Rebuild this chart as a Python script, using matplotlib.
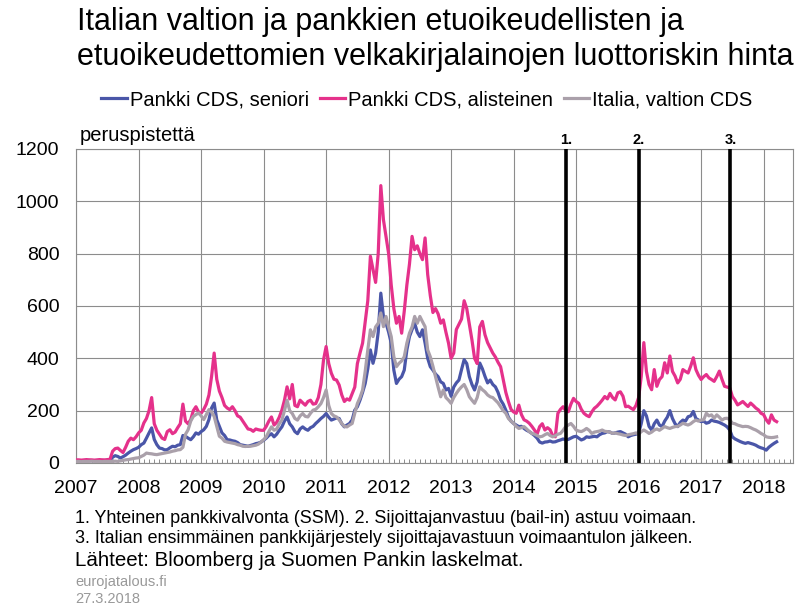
import numpy as np
import matplotlib
matplotlib.use('Agg')
import matplotlib.pyplot as plt
from matplotlib.ticker import MultipleLocator

plt.rcParams['font.family'] = ['Liberation Sans', 'DejaVu Sans']

# puolikuukausittaiset havainnot 1/2007 - 3/2018 (peruspistettä)
start_year = 2007
per_year = 24

senior = [9,9,8,9,9,10,9,9,8,9,10,9,9,10, 22,28,25,19,24,30,38,45,51,55,
          60,70,76,95,115,134,90,70,57,55,50,51,58,64,62,68,70,105,102,95,89,100,115,110,
          120,127,140,166,210,229,165,140,115,105,89,88,85,83,78,70,68,66,64,67,70,74,76,80,
          87,95,105,112,100,110,125,138,160,176,150,138,120,112,130,138,130,125,135,140,151,160,170,178,
          189,175,164,168,172,170,150,138,145,151,165,202,215,240,270,304,360,432,381,420,500,649,560,534,
          500,458,355,304,320,330,355,432,483,510,534,500,483,509,458,400,368,355,340,330,310,304,279,285,
          255,290,306,317,357,395,380,330,300,279,310,382,360,331,306,317,300,291,270,241,225,202,175,160,
          151,145,139,140,132,125,120,113,105,95,80,76,80,81,84,80,81,85,88,92,88,90,95,100,
          102,95,88,92,100,98,100,102,100,108,113,115,120,118,113,115,118,120,115,110,100,105,108,110,
          115,150,200,180,140,126,150,164,145,139,160,175,200,170,150,139,155,164,160,177,180,197,170,164,
          158,160,152,155,164,160,158,155,150,145,138,126,100,92,87,82,78,75,78,75,72,68,62,58,
          55,49,60,68,75,81]

subordinated = [12,12,11,12,13,12,12,11,12,13,12,12,13,14, 45,55,57,48,40,60,83,95,89,100,
                115,125,153,170,200,250,150,125,110,95,90,120,127,112,118,135,150,225,160,150,166,200,215,195,
                190,205,225,260,330,420,320,275,250,220,210,204,215,200,180,175,160,145,130,128,121,130,127,125,
                125,140,160,176,145,155,175,202,240,291,245,300,220,215,240,230,221,235,240,225,227,250,300,394,
                445,380,343,320,317,298,260,235,245,240,265,290,380,420,458,540,620,790,739,690,800,1060,930,866,
                800,680,590,534,560,496,580,680,760,866,815,830,800,777,860,720,640,575,590,570,534,547,500,458,
                400,420,510,530,550,620,590,530,470,400,380,520,541,490,460,440,420,405,385,368,320,270,235,205,
                195,190,221,185,165,160,152,140,126,110,139,150,126,135,127,105,100,190,205,215,200,196,225,247,
                235,228,205,190,182,177,195,209,217,228,240,254,245,266,250,241,268,272,255,215,217,210,204,220,
                250,330,460,350,300,280,357,293,319,330,383,344,409,350,332,306,320,357,350,344,370,402,357,335,
                319,330,338,325,319,312,330,351,320,293,290,287,254,240,222,228,235,225,216,229,220,210,203,190,
                185,165,152,184,164,158]

sovereign = [6,6,5,6,6,6,7,6,6,6,5,6,6,6,6,7,6,8,10,12,13,15,17,19,
             20,25,30,38,36,35,33,32,34,36,38,40,42,45,47,50,51,60,110,127,160,178,185,191,
             180,166,185,204,195,178,140,102,95,83,80,78,76,74,70,68,64,63,64,64,66,68,72,80,
             89,100,120,138,125,130,150,164,200,240,200,189,170,164,180,189,178,176,190,202,205,215,227,250,
             279,220,189,180,176,165,151,140,138,145,151,190,227,250,279,350,432,509,483,520,534,573,521,560,
             520,483,406,368,381,390,406,458,496,520,560,534,560,540,521,432,406,370,330,290,253,279,250,240,
             228,250,266,280,291,300,280,253,240,228,250,291,280,272,260,253,250,240,230,215,200,190,170,160,
             151,140,132,135,139,130,120,113,110,105,100,102,108,113,105,100,104,110,113,125,139,145,151,140,
             126,122,120,125,132,125,113,118,120,122,126,121,120,118,113,115,112,110,107,105,108,110,112,115,
             110,120,126,120,113,118,126,130,125,132,139,135,132,136,139,140,145,152,148,145,150,158,164,160,
             164,165,190,180,184,171,184,175,164,170,171,165,152,150,145,142,139,140,139,135,130,126,120,113,
             108,100,98,97,98,100]

series_names = ['Pankki CDS, seniori', 'Pankki CDS, alisteinen', 'Italia, valtion CDS']
events = [2014.84, 2016.0, 2017.47]   # SSM, bail-in, ensimmäinen järjestely
event_labels = ['1.', '2.', '3.']
years = list(range(2007, 2019))

t = start_year + np.arange(len(senior)) / per_year

fig = plt.figure(figsize=(8.1, 6.08), dpi=100)
ax = fig.add_axes([0.094, 0.2385, 0.885, 0.5165])

grid_c = '#8c8c8c'
ax.plot(t, senior, color='#4a56a8', lw=2.3, label=series_names[0], zorder=3)
ax.plot(t, subordinated, color='#e5318b', lw=2.3, label=series_names[1], zorder=3)
ax.plot(t, sovereign, color='#aaa0aa', lw=2.3, label=series_names[2], zorder=3)

for ev, lab in zip(events, event_labels):
    ax.axvline(ev, color='black', lw=2.6, zorder=4)
    ax.text(ev, 1206, lab, ha='center', va='bottom', fontsize=10.5, fontweight='bold')

ax.set_xlim(2007, 2018.47)
ax.set_ylim(0, 1200)
ax.set_xticks(years)
ax.set_xticklabels([str(y) for y in years])
ax.xaxis.set_minor_locator(MultipleLocator(1 / 12))
ax.yaxis.set_major_locator(MultipleLocator(200))
ax.grid(True, which='major', color=grid_c, lw=0.8)
ax.set_axisbelow(True)
for s in ax.spines.values():
    s.set_color(grid_c)
    s.set_linewidth(0.8)
ax.tick_params(axis='x', which='major', length=0, labelsize=14, pad=12)
ax.tick_params(axis='x', which='minor', direction='in', length=3, color=grid_c, width=0.7)
ax.tick_params(axis='y', which='major', length=0, labelsize=14, pad=12)

ax.text(0.005, 1.014, 'peruspistettä', transform=ax.transAxes, fontsize=14.5, va='bottom', ha='left')

fig.text(0.095, 0.988, 'Italian valtion ja pankkien etuoikeudellisten ja\n'
         'etuoikeudettomien velkakirjalainojen luottoriskin hinta',
         fontsize=22, va='top', ha='left', linespacing=1.22)

fig.legend(loc='center', bbox_to_anchor=(0.527, 0.836), ncol=3, frameon=False,
           fontsize=14.5, handlelength=1.25, columnspacing=0.55, handletextpad=0.15)

fig.text(0.093, 0.148, '1. Yhteinen pankkivalvonta (SSM). 2. Sijoittajanvastuu (bail-in) astuu voimaan.',
         fontsize=12.9, va='center')
fig.text(0.093, 0.115, '3. Italian ensimmäinen pankkijärjestely sijoittajavastuun voimaantulon jälkeen.',
         fontsize=12.9, va='center')
fig.text(0.093, 0.078, 'Lähteet: Bloomberg ja Suomen Pankin laskelmat.', fontsize=14.8, va='center')
fig.text(0.093, 0.043, 'eurojatalous.fi', fontsize=10.5, color='#999999', va='center')
fig.text(0.093, 0.014, '27.3.2018', fontsize=10.5, color='#999999', va='center')

fig.savefig('out.png', dpi=100)
